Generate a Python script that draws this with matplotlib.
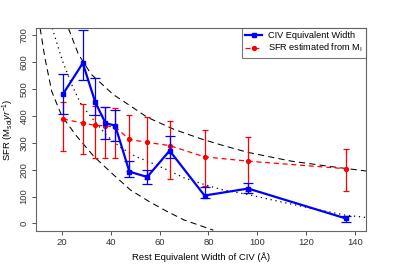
import matplotlib.pyplot as plt
import numpy as np

plt.rcParams['font.family'] = ['Liberation Sans', 'DejaVu Sans']
plt.rcParams['mathtext.fontset'] = 'custom'
plt.rcParams['mathtext.rm'] = 'Liberation Sans'
plt.rcParams['mathtext.it'] = 'Liberation Sans:italic'

# rest equivalent width bins (Å)
ew = [20.4, 28.5, 33.6, 37.8, 41.8, 47.6, 54.9, 64.1, 78.4, 96.3, 136.2]

# SFR from CIV equivalent width
sfr_civ = [482, 597, 452, 374, 364, 193, 173, 271, 104, 130, 19]
civ_hi = [555, 720, 543, 433, 423, 232, 199, 327, 135, 152, 26]
civ_lo = [409, 535, 405, 316, 306, 174, 147, 244, 96, 112, 4]

# SFR estimated from M_I
sfr_mi = [389, 374, 365, 364, 359, 313, 302, 290, 248, 232, 204]
mi_hi = [452, 444, 438, 434, 430, 403, 396, 382, 348, 322, 278]
mi_lo = [270, 259, 243, 243, 243, 195, 167, 167, 139, 120, 121]

# model curves
steep_x = [11, 13, 15.8, 19.9, 26, 33, 41, 48, 56, 63, 70, 77, 82]
steep_y = [727, 615, 491, 400, 325, 250, 182, 125, 80, 45, 13, -9, -25]
dot_x = [16, 20, 24, 28, 33, 38, 44, 50, 56, 63, 70, 78, 85, 96, 115, 136, 145]
dot_y = [727, 610, 516, 440, 385, 330, 283, 250, 228, 200, 170, 146, 127, 108, 70, 31, 22]
flat_x = [22.6, 26.7, 32, 41, 46, 55, 66, 77, 85, 96, 114, 130, 145]
flat_y = [727, 630, 555, 480, 450, 395, 350, 315, 293, 265, 232, 212, 195]

fig = plt.figure(figsize=(3.95, 2.74), dpi=100)
ax = fig.add_axes([0.0904, 0.157, 0.8362, 0.741])

ax.plot(steep_x, steep_y, color='black', lw=0.75, dashes=(6, 4))
ax.plot(flat_x, flat_y, color='black', lw=0.75, dashes=(6, 4))
ax.plot(dot_x, dot_y, color='black', lw=0.9, dashes=(1, 3))

civ = np.array(sfr_civ)
mi = np.array(sfr_mi)
ax.errorbar(ew, sfr_mi, yerr=[mi - np.array(mi_lo), np.array(mi_hi) - mi],
            fmt='none', ecolor='red', elinewidth=0.9, capsize=2.5, capthick=0.9)
ax.plot(ew, sfr_mi, color='red', lw=0.9, dashes=(4, 3), marker='o', ms=2.8,
        label='SFR estimated from M$_\\mathrm{I}$')
ax.errorbar(ew, sfr_civ, yerr=[civ - np.array(civ_lo), np.array(civ_hi) - civ],
            fmt='none', ecolor='blue', elinewidth=0.9, capsize=3.5, capthick=0.9)
ax.plot(ew, sfr_civ, color='blue', lw=1.6, marker='s', ms=3.2,
        label='CIV Equivalent Width')

ax.set_xlim(9.2, 144.6)
ax.set_ylim(-28, 728)
ax.set_xticks([20, 40, 60, 80, 100, 120, 140])
ax.set_yticks([0, 100, 200, 300, 400, 500, 600, 700])
for lbl in ax.get_yticklabels():
    lbl.set_rotation(90)
    lbl.set_va('center')
ax.tick_params(direction='out', length=3, width=0.6, labelsize=6.8, colors='#333333', pad=2)
for sp in ax.spines.values():
    sp.set_color('#666666')
    sp.set_linewidth(0.8)

ax.set_xlabel('Rest Equivalent Width of CIV (\u00c5)', fontsize=6.8, labelpad=4)
ax.set_ylabel('SFR (M$_\\mathrm{sol}$$\\mathit{yr}^{-1}$)', fontsize=6.8, labelpad=3)

h, l = ax.get_legend_handles_labels()
leg = ax.legend(h[::-1], l[::-1], loc='upper right', fontsize=6.6, frameon=True,
                fancybox=False, edgecolor='#555555', borderaxespad=0,
                handlelength=1.8, borderpad=0.35, labelspacing=0.2, handletextpad=0.7)
leg.get_frame().set_linewidth(0.8)

fig.savefig('out.png', dpi=100)
